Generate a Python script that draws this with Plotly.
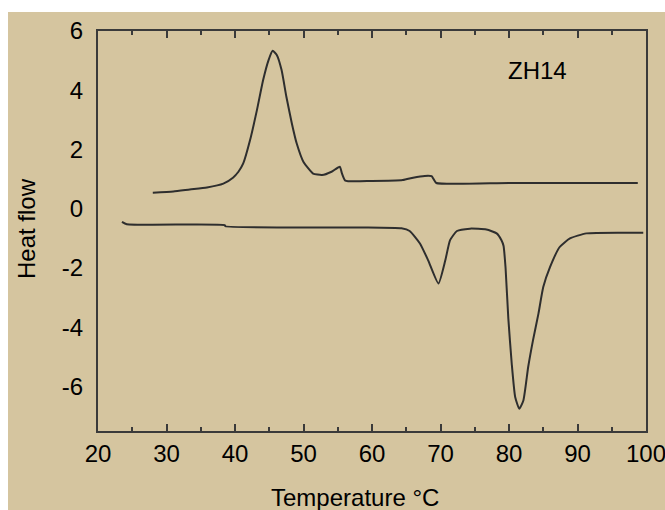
import plotly.graph_objects as go

# Cooling (exothermic) curve
cool_temp = [28.0, 31.0, 33.4, 35.9, 38.3, 39.7, 40.5, 41.2, 42.2, 43.2, 44.1, 44.9, 45.5,
             46.1, 46.8, 47.5, 48.3, 49.0, 50.0, 51.4, 52.7, 54.1, 55.3, 55.6, 56.1, 60.0,
             64.5, 66.0, 67.7, 68.7, 69.0, 69.4, 80.0, 98.8]
cool_flow = [0.54, 0.58, 0.65, 0.72, 0.85, 1.05, 1.25, 1.53, 2.32, 3.33, 4.34, 5.02, 5.33,
             5.19, 4.68, 3.78, 2.88, 2.21, 1.58, 1.19, 1.14, 1.25, 1.42, 1.2, 0.95, 0.94,
             0.97, 1.05, 1.11, 1.10, 1.0, 0.87, 0.87, 0.87]

# Heating (endothermic) curve
heat_temp = [23.5, 24.2, 38.5, 38.6, 58.2, 64.3, 65.5, 67.0, 68.2, 69.7, 70.7, 71.4, 72.4,
             74.3, 76.7, 78.2, 78.9, 79.2, 79.5, 79.9, 80.4, 80.9, 81.5, 82.1, 82.8,
             83.5, 84.3, 85.0, 86.0, 87.4, 88.9, 91.3, 99.6]
heat_flow = [-0.44, -0.52, -0.55, -0.59, -0.63, -0.66, -0.75, -1.17, -1.74, -2.52, -1.74,
             -1.06, -0.75, -0.67, -0.70, -0.83, -1.06, -1.25, -2.0, -3.7, -5.23, -6.35,
             -6.75, -6.47, -5.34, -4.44, -3.54, -2.64, -1.96, -1.29, -1.0, -0.83, -0.81]

x_ticks = [20, 30, 40, 50, 60, 70, 80, 90, 100]
y_ticks = [-6, -4, -2, 0, 2, 4, 6]

TAN = "#d5c59f"
LINE = "#2e2e2e"
AXIS = "#3a3a3a"
FONT = "Liberation Sans, Arial, sans-serif"

fig = go.Figure()
fig.add_trace(go.Scatter(x=cool_temp, y=cool_flow, mode="lines",
                         line=dict(color=LINE, width=2, shape="spline", smoothing=0.5),
                         showlegend=False, hoverinfo="skip"))
fig.add_trace(go.Scatter(x=heat_temp, y=heat_flow, mode="lines",
                         line=dict(color=LINE, width=2, shape="spline", smoothing=0.5),
                         showlegend=False, hoverinfo="skip"))

# white strips along the top and left edges
fig.add_shape(type="rect", xref="paper", yref="paper",
              x0=-0.25, x1=1.2, y0=1.0475, y1=1.1,
              fillcolor="white", line_width=0, layer="above")
fig.add_shape(type="rect", xref="paper", yref="paper",
              x0=-0.25, x1=-0.1642, y0=-0.25, y1=1.1,
              fillcolor="white", line_width=0, layer="above")

fig.update_layout(
    width=690, height=510,
    margin=dict(l=98, r=44, t=31, b=79),
    paper_bgcolor=TAN,
    plot_bgcolor=TAN,
    font=dict(family=FONT, size=24, color="black"),
    xaxis=dict(range=[20, 100], tickvals=x_ticks, ticktext=[str(v) for v in x_ticks],
               ticks="inside", ticklen=7, tickwidth=2, tickcolor=AXIS,
               minor=dict(dtick=5, ticks="inside", ticklen=4, tickwidth=2, tickcolor=AXIS),
               showline=True, linewidth=2, linecolor=AXIS, mirror="ticks",
               showgrid=False, zeroline=False, ticklabelstandoff=0,
               ticklabeloverflow="allow", tickfont=dict(size=24)),
    yaxis=dict(range=[-7.5, 6], tickvals=y_ticks, ticktext=[str(v) for v in y_ticks],
               ticks="", showline=True, linewidth=2, linecolor=AXIS, mirror=True,
               showgrid=False, zeroline=False, ticklabelstandoff=8,
               tickfont=dict(size=24)),
    annotations=[
        dict(text="ZH14", x=84.2, y=4.68, xref="x", yref="y", showarrow=False,
             font=dict(size=24), xanchor="center", yanchor="middle"),
        dict(text="Temperature °C", x=0.469, y=-0.165, xref="paper", yref="paper",
             showarrow=False, font=dict(size=24), xanchor="center", yanchor="middle"),
        dict(text="Heat flow", x=-0.1314, y=0.5075, xref="paper", yref="paper",
             showarrow=False, font=dict(size=24), textangle=-90,
             xanchor="center", yanchor="middle"),
    ],
)

fig.write_html(
    "out.html",
    config={"displayModeBar": False},
    post_script="document.body.style.margin='0';"
                "document.documentElement.style.overflow='hidden';"
                "document.body.style.overflow='hidden';",
)
